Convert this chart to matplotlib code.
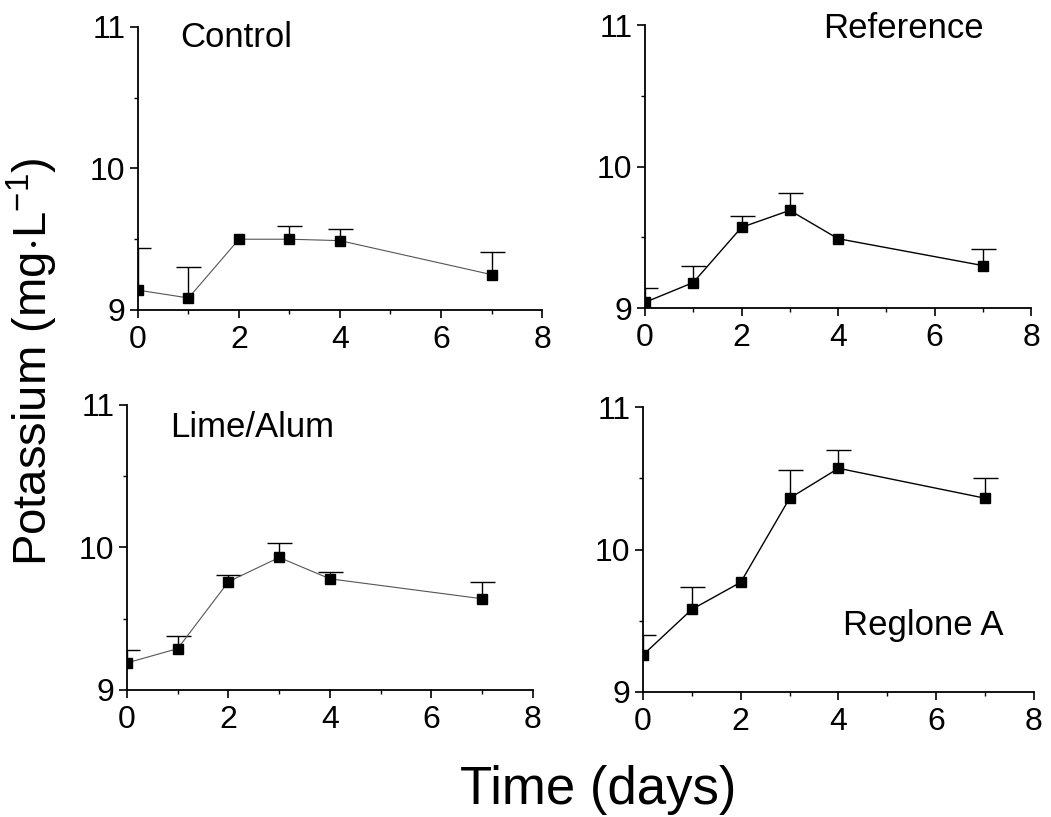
import numpy as np
import matplotlib.pyplot as plt
from matplotlib.ticker import MultipleLocator

plt.rcParams['font.family'] = ['Liberation Sans', 'DejaVu Sans']
plt.rcParams['mathtext.fontset'] = 'custom'
plt.rcParams['mathtext.rm'] = 'Liberation Sans'
plt.rcParams['mathtext.it'] = 'Liberation Sans'

# sampling days
days = [0, 1, 2, 3, 4, 7]

# potassium means (mg/L) and upper error (NaN = bar hidden behind marker)
control_k = [9.14, 9.085, 9.50, 9.50, 9.49, 9.25]
control_err = [0.30, 0.22, np.nan, 0.09, 0.08, 0.16]

reference_k = [9.04, 9.18, 9.57, 9.69, 9.49, 9.30]
reference_err = [0.10, 0.12, 0.08, 0.12, np.nan, 0.12]

lime_k = [9.19, 9.29, 9.76, 9.93, 9.78, 9.64]
lime_err = [0.09, 0.09, 0.05, 0.10, 0.05, 0.12]

reglone_k = [9.26, 9.58, 9.77, 10.36, 10.57, 10.36]
reglone_err = [0.14, 0.16, np.nan, 0.20, 0.13, 0.14]

panel_names = ['Control', 'Reference', 'Lime/Alum', 'Reglone A']

fig = plt.figure(figsize=(10.51, 8.17), dpi=100)

# axes rectangles (left, bottom, width, height) in figure fraction
rects = [
    [0.1313, 0.6206, 0.3844, 0.3464],
    [0.6137, 0.6230, 0.3673, 0.3464],
    [0.1208, 0.1555, 0.3863, 0.3488],
    [0.6118, 0.1530, 0.3720, 0.3488],
]
series = [
    (control_k, control_err, '#555555', 0.8),
    (reference_k, reference_err, 'black', 1.0),
    (lime_k, lime_err, '#555555', 0.8),
    (reglone_k, reglone_err, 'black', 1.0),
]
# label anchor (axes fraction, left/baseline)
label_pos = [(0.104, 0.93), (0.461, 0.954), (0.106, 0.888), (0.512, 0.20)]

for rect, (vals, err, lc, lw), name, (lx, ly) in zip(rects, series, panel_names, label_pos):
    ax = fig.add_axes(rect)
    vals = np.array(vals)
    err = np.array(err)
    yerr = [np.zeros_like(err), err]
    eb = ax.errorbar(days, vals, yerr=yerr, fmt='none', ecolor='black',
                     elinewidth=1.0, capsize=9, capthick=1.0)
    eb[1][0].set_visible(False)  # hide lower caps
    ax.plot(days, vals, color=lc, linewidth=lw)
    ax.plot(days, vals, linestyle='none', marker='s', markersize=7,
            color='black')

    ax.set_xlim(0, 8)
    ax.set_ylim(9, 11)
    ax.xaxis.set_major_locator(MultipleLocator(2))
    ax.xaxis.set_minor_locator(MultipleLocator(1))
    ax.yaxis.set_major_locator(MultipleLocator(1))
    ax.yaxis.set_minor_locator(MultipleLocator(0.5))
    ax.spines['top'].set_visible(False)
    ax.spines['right'].set_visible(False)
    ax.spines['left'].set_linewidth(1.3)
    ax.spines['bottom'].set_linewidth(1.3)
    ax.tick_params(axis='both', which='major', direction='out', length=6,
                   width=1.2, labelsize=23)
    ax.tick_params(axis='both', which='minor', direction='out', length=3,
                   width=1.0)
    ax.tick_params(axis='y', which='major', pad=3)
    ax.tick_params(axis='x', which='major', pad=5)

    ax.text(lx, ly, name, transform=ax.transAxes, fontsize=25,
            ha='left', va='baseline')

fig.text(0.031, 0.557, r'Potassium (mg$\cdot$L$^{-1}$)', rotation=90,
         fontsize=34, ha='center', va='center')
fig.text(0.569, 0.016, 'Time (days)', fontsize=38, ha='center',
         va='baseline')

fig.savefig('out.png', dpi=100)
